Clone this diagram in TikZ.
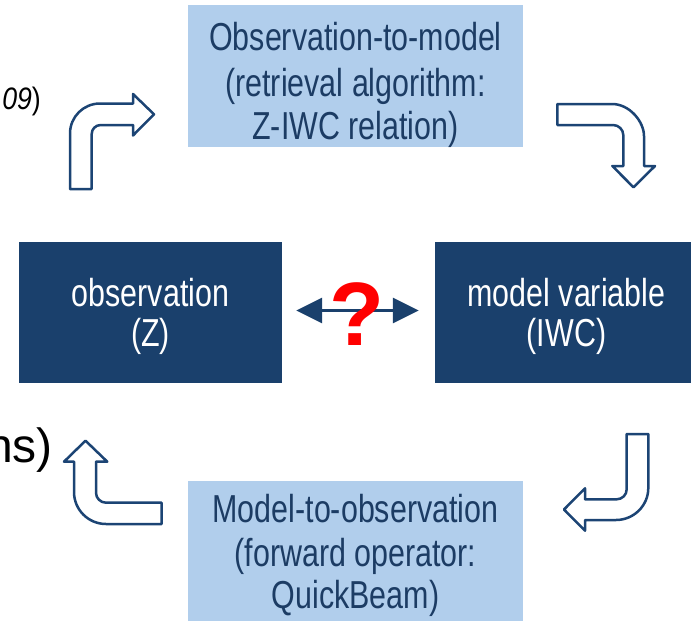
\documentclass[tikz,border=0pt]{standalone}
\usepackage{fontspec}
\setmainfont{Liberation Sans}
\newfontfamily\diagfont[FakeStretch=0.78]{Liberation Sans}
\newfontfamily\plainfont{Liberation Sans}
\newfontfamily\citefont[FakeStretch=0.86]{Liberation Sans}
\usetikzlibrary{arrows.meta}
\definecolor{navy}{RGB}{26,64,108}
\definecolor{lightblue}{RGB}{177,206,236}
\definecolor{textnavy}{RGB}{28,60,100}
\definecolor{arrowblue}{RGB}{28,68,116}
\tikzset{
  lbox/.style={fill=lightblue, draw=none, inner sep=0pt},
  dbox/.style={fill=navy, draw=none, inner sep=0pt},
  ltext/.style={font=\diagfont\fontsize{39}{44}\selectfont, text=textnavy, anchor=base, inner sep=0pt},
  dtext/.style={font=\diagfont\fontsize{39}{44}\selectfont, text=white, anchor=base, inner sep=0pt},
  bendarrow/.style={draw=arrowblue, line width=2.5pt, fill=white, line join=round},
  dblarrow/.style={draw=navy, line width=2.7pt,
    {Triangle[length=26pt,width=25pt]}-{Triangle[length=26pt,width=25pt]}},
  sidetext/.style={anchor=base east, inner sep=0pt, text=black}
}
\begin{document}
\begin{tikzpicture}[x=1pt,y=-1pt]
\useasboundingbox (0,0) rectangle (691,621);
\clip (0,0) rectangle (691,621);

% boxes
\node[lbox, minimum width=335pt, minimum height=142pt] (top) at (355.5,76) {};
\node[lbox, minimum width=335pt, minimum height=146pt] (bot) at (355.5,554) {};
\node[dbox, minimum width=263pt, minimum height=141pt] (obs) at (150.5,312.5) {};
\node[dbox, minimum width=260pt, minimum height=141pt] (model) at (565,312.5) {};

% texts of the top box
\node[ltext] (t1) at (355.5,50) {Observation-to-model};
\node[ltext] (t2) at (355.5,96.5) {(retrieval algorithm:};
\node[ltext] (t3) at (355.5,139) {Z-IWC relation)};
% texts of the bottom box
\node[ltext] (b1) at (355.5,522.7) {Model-to-observation};
\node[ltext] (b2) at (355.5,566.7) {(forward operator:};
\node[ltext] (b3) at (355.5,608) {QuickBeam)};
% texts of the dark boxes
\node[dtext] (o1) at (150.5,306) {observation};
\node[dtext] (o2) at (150.5,346) {(Z)};
\node[dtext] (m1) at (566.5,306) {model variable};
\node[dtext] (m2) at (566.5,346) {(IWC)};

% double arrow and question mark
\draw[dblarrow] ([xshift=14pt,yshift=2pt]obs.east) -- ([xshift=-16pt,yshift=2pt]model.west);
\node[font=\fontsize{90}{90}\bfseries\selectfont, text=red, anchor=base, inner sep=0pt] (q) at (356.5,345) {?};

% clipped side texts
\node[sidetext, font=\citefont\fontsize{31}{31}\selectfont] (cite) at (41,109) {\textit{09})};
\node[sidetext, font=\plainfont\fontsize{48}{48}\selectfont] (ns) at (53,462) {ns)};

% bent arrows
\draw[bendarrow] (70,189) -- (70,133.5) .. controls (70,116.9) and (83.4,103.5) .. (100,103.5)
  -- (133,103.5) -- (133,94) -- (154,114.3) -- (133,135.5) -- (133,125) -- (100.7,125)
  .. controls (95.7,125) and (91.7,129) .. (91.7,134) -- (91.7,189) -- cycle;
\draw[bendarrow] (557.3,104) -- (612,104) .. controls (629.7,104) and (644,121.7) .. (644,136)
  -- (644,166) -- (655,166) -- (633.5,187.3) -- (612.3,166) -- (623.3,166) -- (623.3,135)
  .. controls (623.3,129.5) and (618.5,125) .. (613,125) -- (557.3,125) -- cycle;
\draw[bendarrow] (626.7,434) -- (648.3,434) -- (648.3,488) .. controls (648.3,505.7) and (633.7,520) .. (616,520)
  -- (585,520) -- (585,530.7) -- (564,509.5) -- (585,488.3) -- (585,499.3) -- (616.7,499.3)
  .. controls (622.2,499.3) and (626.7,494.8) .. (626.7,489.3) -- cycle;
\draw[bendarrow] (161.7,502.7) -- (106,502.7) .. controls (100.5,502.7) and (96,498.2) .. (96,492.7)
  -- (96,461.7) -- (107.3,461.7) -- (85.5,440.7) -- (64,461.7) -- (74,461.7) -- (74,492)
  .. controls (74,509.7) and (88.3,524) .. (106,524) -- (161.7,524) -- cycle;
\end{tikzpicture}
\end{document}
